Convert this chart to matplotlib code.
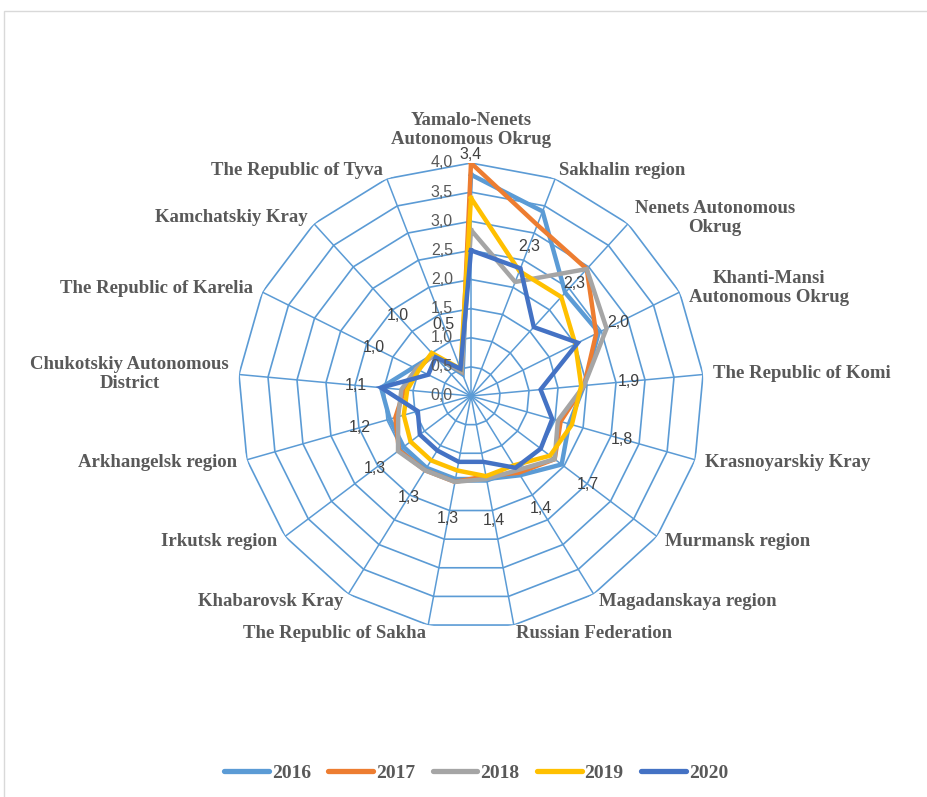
import numpy as np
import matplotlib
matplotlib.use("Agg")
import matplotlib.pyplot as plt
from matplotlib.lines import Line2D
from matplotlib.patches import Rectangle

categories = [
    "Yamalo-Nenets\nAutonomous Okrug", "Sakhalin region", "Nenets Autonomous\nOkrug",
    "Khanti-Mansi\nAutonomous Okrug", "The Republic of Komi", "Krasnoyarskiy Kray",
    "Murmansk region", "Magadanskaya region", "Russian Federation",
    "The Republic of Sakha", "Khabarovsk Kray", "Irkutsk region",
    "Arkhangelsk region", "Chukotskiy Autonomous\nDistrict", "The Republic of Karelia",
    "Kamchatskiy Kray", "The Republic of Tyva",
]

years = ["2016", "2017", "2018", "2019", "2020"]
v2016 = [3.8, 3.4, 2.4, 2.45, 1.95, 1.75, 1.95, 1.6, 1.45, 1.45, 1.45, 1.45, 1.45, 1.55, 1.1, 0.95, 0.4]
v2017 = [4.0, 3.15, 2.95, 2.4, 1.95, 1.6, 1.8, 1.55, 1.4, 1.5, 1.5, 1.55, 1.35, 1.15, 1.05, 0.95, 0.45]
v2018 = [2.85, 2.1, 2.95, 2.6, 1.95, 1.55, 1.8, 1.5, 1.45, 1.5, 1.5, 1.57, 1.3, 1.2, 1.05, 0.95, 0.45]
v2019 = [3.4, 2.3, 2.3, 2.0, 1.9, 1.8, 1.7, 1.4, 1.4, 1.3, 1.3, 1.3, 1.2, 1.1, 1.0, 1.0, 0.5]
v2020 = [2.5, 2.35, 1.6, 2.05, 1.2, 1.45, 1.5, 1.45, 1.15, 1.15, 1.1, 1.1, 0.95, 1.55, 0.82, 0.9, 0.5]
series = [v2016, v2017, v2018, v2019, v2020]
colors = ["#5B9BD5", "#ED7D31", "#A5A5A5", "#FFC000", "#4472C4"]

r_ticks = [0.0, 0.5, 1.0, 1.5, 2.0, 2.5, 3.0, 3.5, 4.0]
r_max = 4.0

# radial distance of each 2019 value label beyond its point
label_pad = [0.74, 0.45, 0.32, 0.82, 0.82, 0.9, 0.82, 0.88, 0.78, 0.84, 0.74, 0.76, 0.78, 0.88, 0.86, 0.86, 0.82]

grid_color = "#5B9BD5"
text_gray = "#595959"
serif = "Liberation Serif"
sans = "Liberation Sans"

W, H = 928, 797
fig = plt.figure(figsize=(W / 100, H / 100), dpi=100)
fig.patch.set_facecolor("white")

# outer chart frame
fig.add_artist(Rectangle((4 / W, -0.01), 1.02, 1 - 11 / H + 0.01, transform=fig.transFigure,
                         fill=False, edgecolor="#D9D9D9", linewidth=1.0))

cx, cy, R = 471, 396, 233
ax = fig.add_axes([(cx - R) / W, (H - cy - R) / H, 2 * R / W, 2 * R / H], projection="polar")
ax.set_theta_offset(np.pi / 2)
ax.set_theta_direction(-1)
ax.set_ylim(0, r_max)
ax.grid(False)
ax.set_xticks([])
ax.set_yticks([])
ax.spines["polar"].set_visible(False)
ax.patch.set_alpha(0)

n = len(categories)
theta = np.arange(n) * 2 * np.pi / n
theta_closed = np.append(theta, theta[0])

# polygon rings and spokes
for r in r_ticks[1:]:
    ax.plot(theta_closed, [r] * (n + 1), color=grid_color, lw=1.2, zorder=1)
for t in theta:
    ax.plot([t, t], [0, r_max], color=grid_color, lw=1.1, zorder=1)

# series
for vals, col in zip(series, colors):
    ax.plot(theta_closed, list(vals) + [vals[0]], color=col, lw=3.2, zorder=3,
            solid_joinstyle="miter")

# radial axis labels on the top spoke
for r in r_ticks:
    ax.annotate(f"{r:.1f}".replace(".", ","), xy=(0, r), xytext=(-13, 0), textcoords="offset points",
                ha="right", va="center", fontsize=11.5, color=text_gray, family=sans, zorder=4)

# 2019 value labels
for t, v, pad in zip(theta, v2019, label_pad):
    ax.text(t, v + pad, f"{v:.1f}".replace(".", ","), ha="center", va="center",
            fontsize=11.5, color="#404040", family=sans, zorder=5)

# category labels around the outer ring
for t, name in zip(theta, categories):
    s, c = np.sin(t), np.cos(t)
    if abs(s) < 0.05:
        ha, va, dx, dy = "center", "bottom", 0, 11
    else:
        ha = "left" if s > 0 else "right"
        va = "center"
        dx = 7.2 * s
        dy = 6.0 * c
    ax.annotate(name, xy=(t, r_max), xytext=(dx, dy), textcoords="offset points",
                ha=ha, va=va, multialignment="center", fontsize=13.5, fontweight="bold",
                color=text_gray, family=serif, zorder=5, annotation_clip=False,
                linespacing=1.15)

# legend
handles = [Line2D([0], [0], color=c, lw=3.8, solid_capstyle="round") for c in colors]
leg = fig.legend(handles, years, loc="center", bbox_to_anchor=(476 / W, 1 - 773 / H), ncol=5,
                 frameon=False, handlelength=2.3, handletextpad=0.15, columnspacing=0.9,
                 prop={"family": serif, "weight": "bold", "size": 14})
for txt in leg.get_texts():
    txt.set_color(text_gray)

fig.savefig("out.png", dpi=100)
